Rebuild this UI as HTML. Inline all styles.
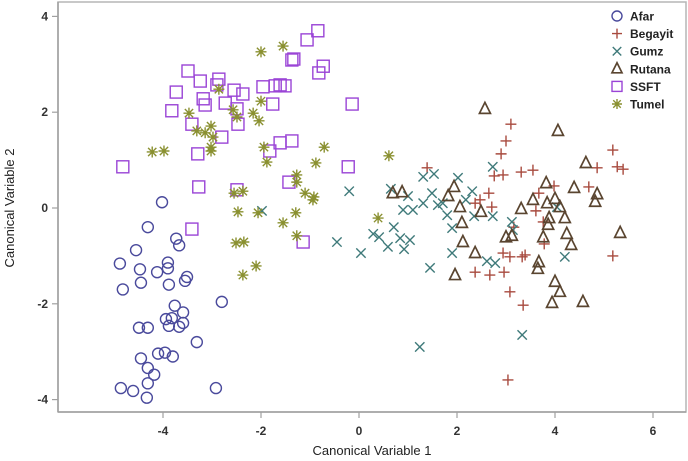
<!DOCTYPE html>
<html><head><meta charset="utf-8"><style>
html,body{margin:0;padding:0;background:#fff;}
svg{display:block;font-family:"Liberation Sans",Arial,sans-serif;}
</style></head><body>
<svg id="chart" width="688" height="461" viewBox="0 0 688 461"></svg>
<script>
const afarX=[-4.02,-4.31,-3.73,-3.67,-4.55,-4.88,-4.47,-3.90,-3.90,-4.12,-3.51,-3.55,-4.45,-3.88,-4.82,-2.80,-3.76,-3.59,-3.94,-3.82,-3.59,-3.88,-3.67,-4.49,-4.31,-3.31,-4.10,-3.96,-3.80,-4.45,-4.31,-4.18,-4.31,-4.86,-4.61,-4.33,-2.92];
const afarY=[0.12,-0.40,-0.64,-0.78,-0.88,-1.16,-1.28,-1.14,-1.26,-1.34,-1.44,-1.52,-1.56,-1.60,-1.70,-1.96,-2.04,-2.18,-2.32,-2.30,-2.40,-2.46,-2.48,-2.50,-2.50,-2.80,-3.04,-3.02,-3.10,-3.14,-3.34,-3.48,-3.66,-3.76,-3.82,-3.96,-3.76];
const begX=[3.10,3.00,2.90,1.39,2.76,2.94,3.31,3.55,5.18,4.86,5.27,5.39,3.98,4.69,2.65,2.47,3.67,3.61,2.71,2.37,3.76,3.16,3.78,2.94,3.08,3.33,3.39,5.18,2.37,2.67,2.96,3.08,3.35,3.04];
const begY=[1.75,1.40,1.13,0.84,0.67,0.69,0.75,0.79,1.21,0.84,0.86,0.81,0.46,0.44,0.31,0.17,0.31,-0.06,0.02,0.10,-0.29,-0.40,-0.75,-0.94,-1.02,-1.02,-0.98,-1.00,-1.34,-1.40,-1.34,-1.75,-2.03,-3.59];
const gumzX=[-0.20,-0.45,0.04,1.31,1.53,2.02,2.73,0.65,1.00,1.49,2.31,0.90,1.10,1.31,1.61,1.71,1.80,2.18,2.35,2.73,0.71,0.29,0.41,1.90,0.84,1.04,0.59,0.92,1.90,1.45,2.61,2.78,3.12,3.14,4.04,4.20,3.33,1.24,-1.98];
const gumzY=[0.35,-0.71,-0.94,0.65,0.71,0.63,0.86,0.40,0.25,0.31,0.35,-0.04,-0.04,0.10,0.06,0.10,-0.15,0.17,-0.17,-0.17,-0.40,-0.54,-0.61,-0.42,-0.63,-0.67,-0.81,-0.86,-0.94,-1.25,-1.11,-1.15,-0.29,-0.46,0.02,-1.02,-2.65,-2.90,-0.06];
const rutX=[2.57,4.06,4.63,3.82,4.39,4.86,4.82,0.69,0.88,1.94,1.82,2.06,2.49,3.31,3.55,3.84,4.00,4.10,4.20,3.88,3.86,2.10,3.00,3.12,3.76,4.24,4.33,5.33,2.12,2.37,3.67,3.65,1.96,4.00,4.10,3.94,4.57];
const rutY=[2.07,1.61,0.94,0.52,0.42,0.29,0.13,0.31,0.33,0.44,0.25,0.02,-0.08,-0.02,0.17,0.10,0.19,0.02,-0.21,-0.21,-0.35,-0.31,-0.61,-0.58,-0.61,-0.54,-0.77,-0.52,-0.71,-0.94,-1.13,-1.27,-1.40,-1.54,-1.75,-1.98,-1.96];
const ssftX=[-0.84,-1.06,-1.33,-1.37,-0.73,-0.82,-3.49,-3.24,-2.86,-2.90,-3.73,-2.55,-2.37,-1.96,-1.71,-1.61,-1.51,-3.18,-3.14,-2.73,-2.49,-1.76,-0.14,-3.82,-3.41,-2.47,-2.80,-1.61,-1.37,-1.82,-3.29,-4.82,-0.22,-1.43,-3.27,-2.49,-3.41,-1.14];
const ssftY=[3.70,3.51,3.11,3.09,2.96,2.82,2.86,2.65,2.69,2.57,2.42,2.46,2.38,2.53,2.55,2.57,2.55,2.28,2.15,2.19,2.07,2.17,2.17,2.03,1.75,1.75,1.48,1.36,1.40,1.19,1.13,0.86,0.86,0.54,0.44,0.38,-0.44,-0.71];
const tumX=[-2.00,-1.55,-2.86,-2.00,-3.47,-2.57,-2.16,-2.04,-2.49,-3.02,-3.31,-3.14,-2.98,-3.02,-3.02,-4.22,-3.98,-1.94,-0.71,-1.88,-0.88,-1.27,-1.27,-1.10,-0.92,-2.55,-2.37,-2.47,-2.06,-1.55,-1.29,-1.27,-2.51,-2.35,-2.10,-2.37,-0.94,0.61,0.39];
const tumY=[3.26,3.38,2.48,2.23,1.98,2.05,1.98,1.82,1.90,1.71,1.61,1.57,1.48,1.27,1.19,1.17,1.19,1.27,1.27,0.96,0.94,0.69,0.54,0.31,0.23,0.31,0.35,-0.08,-0.10,-0.31,-0.10,-0.58,-0.73,-0.71,-1.21,-1.40,0.17,1.09,-0.21];
const xTicks=[-4,-2,0,2,4,6];
const yTicks=[4,2,0,-2,-4];
const legendNames=["Afar","Begayit","Gumz","Rutana","SSFT","Tumel"];

const NS="http://www.w3.org/2000/svg";
const svg=document.getElementById("chart");
function xs(v){return 359+v*49;}
function ys(v){return 208-v*47.9;}
function mk(tag,attrs,parent){const e=document.createElementNS(NS,tag);for(const k in attrs)e.setAttribute(k,attrs[k]);(parent||svg).appendChild(e);return e;}
const L=58,R=686,T=2,B=412;
const frame=mk("rect",{x:L,y:T,width:R-L,height:B-T,fill:"none",stroke:"#b5b5b5","stroke-width":1.5});


const xAxis=mk("line",{x1:L,y1:B,x2:R,y2:B,stroke:"#a0a0a0","stroke-width":1.5});


const yAxis=mk("line",{x1:L,y1:T,x2:L,y2:B,stroke:"#a0a0a0","stroke-width":1.5});


xTicks.forEach(t=>{
  const l=mk("line",{x1:xs(t),y1:B,x2:xs(t),y2:B+6,stroke:"#a0a0a0","stroke-width":1.2});
  
  
  const tx=mk("text",{x:xs(t),y:B+23,"text-anchor":"middle","font-size":12,fill:"#333","font-weight":"bold"});
  tx.textContent=String(t);
  
  
});
yTicks.forEach(t=>{
  const l=mk("line",{x1:L-6,y1:ys(t),x2:L,y2:ys(t),stroke:"#a0a0a0","stroke-width":1.2});
  
  
  const tx=mk("text",{x:L-10,y:ys(t)+4,"text-anchor":"end","font-size":12,fill:"#333","font-weight":"bold"});
  tx.textContent=String(t);
  
  
});
const xt=mk("text",{x:372,y:455,"text-anchor":"middle","font-size":13,fill:"#222"});
xt.textContent="Canonical Variable 1";


const yt=mk("text",{x:14,y:208,"text-anchor":"middle","font-size":13,fill:"#222",transform:"rotate(-90 14 208)"});
yt.textContent="Canonical Variable 2";



const cols=["#4a4a9c","#a84a3e","#3f7a7a","#5a4530","#9a44d6","#8a9030"];
function marker(type,cx,cy,g,s){
  const c=cols[type];const sw=1.4;s=s||5.5;
  if(type===0)mk("circle",{cx:cx,cy:cy,r:s,fill:"none",stroke:c,"stroke-width":sw},g);
  else if(type===1){mk("path",{d:`M${cx-s} ${cy}H${cx+s}M${cx} ${cy-s}V${cy+s}`,stroke:c,"stroke-width":sw},g);}
  else if(type===2){const d=s*0.85;mk("path",{d:`M${cx-d} ${cy-d}L${cx+d} ${cy+d}M${cx-d} ${cy+d}L${cx+d} ${cy-d}`,stroke:c,"stroke-width":sw},g);}
  else if(type===3)mk("path",{d:`M${cx} ${cy-s-1}L${cx+s} ${cy+s-1}L${cx-s} ${cy+s-1}Z`,fill:"none",stroke:c,"stroke-width":sw+0.3},g);
  else if(type===4)mk("rect",{x:cx-s,y:cy-s,width:2*s,height:2*s,fill:"none",stroke:c,"stroke-width":sw},g);
  else {const d=s*0.75;mk("path",{d:`M${cx-s} ${cy}H${cx+s}M${cx-d} ${cy-d}L${cx+d} ${cy+d}M${cx-d} ${cy+d}L${cx+d} ${cy-d}M${cx} ${cy-s}V${cy+s}`,stroke:c,"stroke-width":sw},g);}
}
const series=[[afarX,afarY,"afar"],[begX,begY,"begayit"],[gumzX,gumzY,"gumz"],[rutX,rutY,"rutana"],[ssftX,ssftY,"ssft"],[tumX,tumY,"tumel"]];
series.forEach((sr,i)=>{
  const g=mk("g",{});
  
  
  sr[0].forEach((x,j)=>{
    const pg=mk("g",{},g);
    
    
    marker(i,xs(x),ys(sr[1][j]),pg,i===4?6:5.5);
  });
});
const lg=mk("g",{});


legendNames.forEach((n,i)=>{
  const eg=mk("g",{},lg);
  
  
  const y=16+i*17.6;
  marker(i,617,y,eg,5);
  const t=mk("text",{x:630,y:y+4.5,"font-size":12,fill:"#222","font-weight":"bold"},eg);
  t.textContent=n;
});
</script>
</body></html>
